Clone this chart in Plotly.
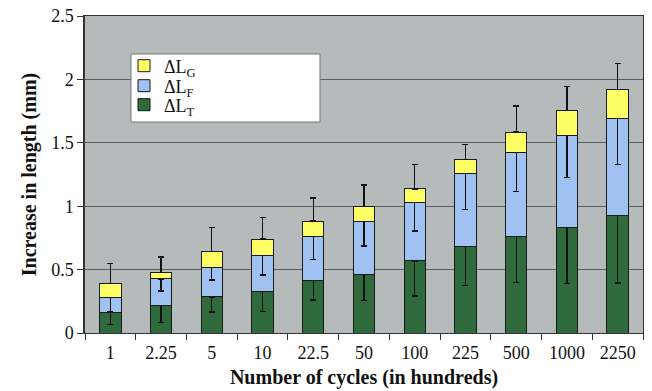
import plotly.graph_objects as go

categories = ["1", "2.25", "5", "10", "22.5", "50", "100", "225", "500", "1000", "2250"]
dL_T = [0.165, 0.215, 0.284, 0.329, 0.418, 0.463, 0.568, 0.686, 0.765, 0.830, 0.930]
dL_F = [0.115, 0.211, 0.236, 0.281, 0.347, 0.420, 0.465, 0.570, 0.660, 0.729, 0.763]
dL_G = [0.110, 0.053, 0.120, 0.131, 0.118, 0.113, 0.103, 0.114, 0.160, 0.197, 0.229]
err_T = [0.095, 0.131, 0.119, 0.161, 0.158, 0.205, 0.276, 0.313, 0.368, 0.441, 0.536]
err_F = [0.115, 0.095, 0.102, 0.153, 0.184, 0.197, 0.229, 0.281, 0.311, 0.334, 0.366]
err_G = [0.160, 0.121, 0.195, 0.168, 0.182, 0.171, 0.191, 0.115, 0.205, 0.187, 0.202]

FONT = "Liberation Serif, Times New Roman, serif"
line = dict(color="#1a1a1a", width=1)
zeros = [0] * len(categories)

def err(minus=None, plus=None):
    return dict(type="data", symmetric=False,
                array=plus if plus is not None else zeros,
                arrayminus=minus if minus is not None else zeros,
                color="#111111", thickness=1.2, width=3)

fig = go.Figure()
fig.add_trace(go.Bar(x=categories, y=dL_T, name="ΔL<sub>T</sub>", legend="legend3",
                     marker=dict(color="#2f6a3c", line=line),
                     error_y=err(minus=err_T)))
fig.add_trace(go.Bar(x=categories, y=dL_F, name="ΔL<sub>F</sub>", legend="legend2",
                     marker=dict(color="#a0c2f2", line=line),
                     error_y=err(minus=err_F)))
fig.add_trace(go.Bar(x=categories, y=dL_G, name="ΔL<sub>G</sub>", legend="legend",
                     marker=dict(color="#ffff66", line=line),
                     error_y=err(plus=err_G)))

# legend box
fig.add_shape(type="rect", xref="paper", yref="paper",
              x0=(131 - 85) / 558, x1=(320 - 85) / 558,
              y0=(333 - 122) / 317, y1=(333 - 54) / 317,
              fillcolor="white", line=dict(color="#777777", width=1), layer="above")

def leg(ypix):
    return dict(x=(124 - 85) / 558, y=(333 - ypix) / 317, xanchor="left", yanchor="middle",
                bgcolor="rgba(0,0,0,0)", font=dict(family=FONT, size=18), itemwidth=30)

# page body has an 8px margin, so the figure is sized/offset to compensate
fig.update_layout(
    width=644, height=383,
    margin=dict(l=77, r=9, t=8, b=58),
    paper_bgcolor="white", plot_bgcolor="#b5babb",
    barmode="stack", bargap=0.58,
    font=dict(family=FONT, size=18, color="#111111"),
    showlegend=True,
    legend=leg(66), legend2=leg(86), legend3=leg(105),
)
fig.update_xaxes(showline=True, linecolor="#333333", linewidth=1, mirror=True, automargin=False,
                 ticks="outside", tickson="boundaries", ticklen=6, tickcolor="#333333",
                 ticklabeloverflow="allow", ticklabelstandoff=3,
                 title=dict(text="<b>Number of cycles (in hundreds)</b>", font=dict(size=20), standoff=8),
                 tickfont=dict(size=18))
fig.update_yaxes(range=[0, 2.5], dtick=0.5, showline=True, linecolor="#333333", linewidth=1.5, mirror=True,
                 automargin=False, ticklabeloverflow="allow",
                 ticks="outside", ticklen=6, tickcolor="#333333",
                 showgrid=True, gridcolor="#585d5e", gridwidth=1, zeroline=False,
                 tickvals=[0, 0.5, 1, 1.5, 2, 2.5], ticktext=["0", "0.5", "1", "1.5", "2", "2.5"],
                 title=dict(text="<b>Increase in length (mm)</b>", font=dict(size=20), standoff=9),
                 tickfont=dict(size=18))

fig.write_html("out.html")
